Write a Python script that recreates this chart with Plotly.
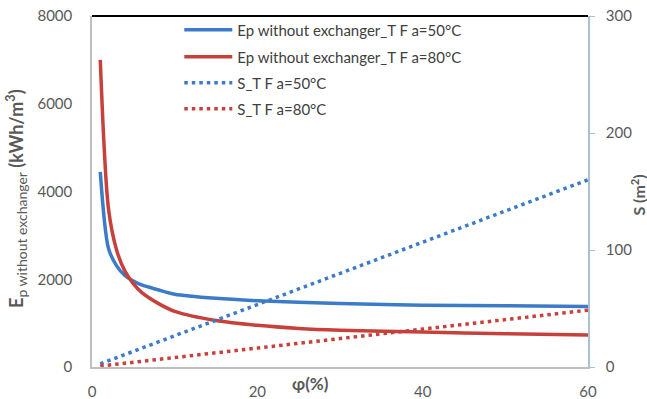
import plotly.graph_objects as go

phi = [1, 2, 3, 4, 5, 6, 8, 10, 15, 20, 25, 30, 40, 50, 60]
ep_50 = [4450, 2700, 2300, 2080, 1960, 1870, 1760, 1660, 1565, 1510, 1475, 1445, 1410, 1395, 1380]
ep_80 = [7000, 3600, 2650, 2180, 1900, 1700, 1450, 1270, 1060, 950, 880, 840, 795, 760, 730]
s_50 = [2.7, 5.3, 8.0, 10.7, 13.3, 16.0, 21.3, 26.7, 40.0, 53.3, 66.7, 80.0, 106.7, 133.3, 160.0]
s_80 = [0.8, 1.6, 2.4, 3.2, 4.0, 4.9, 6.5, 8.1, 12.2, 16.2, 20.3, 24.3, 32.4, 40.5, 48.6]

names = ["Ep without exchanger_T F a=50°C", "Ep without exchanger_T F a=80°C",
         "S_T F a=50°C", "S_T F a=80°C"]

BLUE = "#3c7bc8"
RED = "#c7413c"
FONT = "Lato"
GRAY = "#595959"

fig = go.Figure()
fig.add_trace(go.Scatter(x=phi, y=ep_50, name=names[0], mode="lines", legend="legend",
                         line=dict(color=BLUE, width=3.5, shape="spline", smoothing=0.8)))
fig.add_trace(go.Scatter(x=phi, y=ep_80, name=names[1], mode="lines", legend="legend2",
                         line=dict(color=RED, width=3.5, shape="spline", smoothing=0.8)))
fig.add_trace(go.Scatter(x=phi, y=s_50, name=names[2], mode="lines", yaxis="y2", legend="legend3",
                         line=dict(color=BLUE, width=3.5, dash="3.5px,4px")))
fig.add_trace(go.Scatter(x=phi, y=s_80, name=names[3], mode="lines", yaxis="y2", legend="legend4",
                         line=dict(color=RED, width=3.5, dash="3.5px,4px")))


def leg(y):
    return dict(x=0.176, y=y, xanchor="left", yanchor="middle", bgcolor="rgba(0,0,0,0)",
                font=dict(family=FONT, size=15, color="#404040"), itemwidth=48)


fig.update_layout(
    width=647, height=399,
    margin=dict(l=92, r=59, t=16, b=32, autoexpand=False),
    paper_bgcolor="white", plot_bgcolor="white",
    font=dict(family=FONT, size=15, color=GRAY),
    showlegend=True,
    legend=leg(0.960), legend2=leg(0.883), legend3=leg(0.809), legend4=leg(0.735),
    xaxis=dict(range=[0, 60], tickvals=[0, 20, 40, 60], showgrid=False, zeroline=False,
               showline=True, linecolor="#bfbfbf", linewidth=1.5, ticks="",
               ticklabelstandoff=10, tickfont=dict(size=15, color=GRAY)),
    yaxis=dict(range=[0, 8000], tickvals=[0, 2000, 4000, 6000, 8000], showgrid=False,
               zeroline=False, showline=True, linecolor="#bfbfbf", linewidth=1.5, ticks="",
               ticklabelstandoff=15, tickfont=dict(size=15, color=GRAY)),
    yaxis2=dict(range=[0, 300], tickvals=[0, 100, 200, 300], overlaying="y", side="right",
                showgrid=False, zeroline=False, showline=True, linecolor="#a9c1d3",
                linewidth=1.5, ticks="outside", ticklen=5, tickcolor="#a9c1d3",
                ticklabelstandoff=8, tickfont=dict(size=15, color=GRAY)),
    shapes=[dict(type="line", xref="paper", yref="paper", x0=0, x1=1, y0=1, y1=1,
                 line=dict(color="black", width=2))],
    annotations=[
        dict(text="<b>E</b><sub><span style=\"font-size:14px\">p without exchanger</span></sub>"
                  "<b> (kWh/m<sup>3</sup>)</b>",
             xref="paper", yref="paper",
             x=-0.153, y=0.479, xanchor="center", yanchor="middle", textangle=-90,
             showarrow=False, font=dict(family=FONT, size=18, color=GRAY)),
        dict(text="<b>S (m<sup>2</sup>)</b>", xref="paper", yref="paper",
             x=1.1, y=0.49, xanchor="center", yanchor="middle", textangle=-90,
             showarrow=False, font=dict(family=FONT, size=16, color=GRAY)),
        dict(text="<b>φ(%)</b>", xref="paper", yref="paper",
             x=0.44, y=-0.0456, xanchor="center", yanchor="middle",
             showarrow=False, font=dict(family=FONT, size=17, color=GRAY)),
    ],
)

fig.write_html("out.html", config={"displayModeBar": False},
               post_script="document.body.style.margin='0';")
